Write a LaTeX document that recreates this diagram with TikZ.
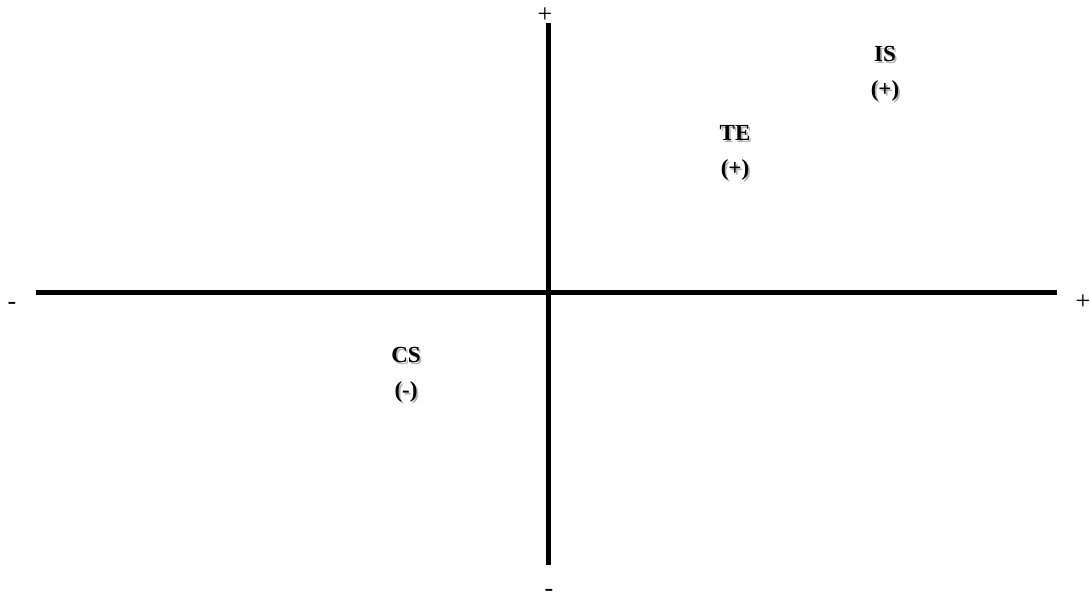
\documentclass[tikz,border=0pt]{standalone}
\usepackage{fontspec}
\setmainfont{Liberation Serif}
\begin{document}
\begin{tikzpicture}[x=1pt,y=-1pt,
  axis/.style={line width=5pt},
  lbl/.style={font=\fontsize{23}{26}\selectfont\bfseries, inner sep=0pt, align=center},
  shd/.style={lbl, text=black!30},
  sgn/.style={font=\fontsize{26}{30}\selectfont, inner sep=0pt, anchor=base}]
\useasboundingbox (0,0) rectangle (1090,600);
\coordinate (hl) at (36,292);
\coordinate (hr) at (1057,292);
\coordinate (vt) at (548,23);
\coordinate (vb) at (548,565);
\draw[axis] (hl) -- (hr);
\draw[axis] (vt) -- (vb);
\node[sgn] (ptop) at (545,22) {+};
\node[sgn] (pright) at (1083,309) {+};
\node[sgn] (mleft) at (12,309) {-};
\node[sgn] (mbot) at (549,596) {-};
\foreach \n/\x/\y/\t in {is1/885/54/IS, is2/885/91/(+), te1/735/133/TE, te2/735/170/(+), cs1/406/355/CS, cs2/406/392/(-)}{
  \node[shd] (\n s) at (\x+1.8,\y+1.8) {\t};
  \node[lbl] (\n) at (\x,\y) {\t};
}
\end{tikzpicture}
\end{document}
